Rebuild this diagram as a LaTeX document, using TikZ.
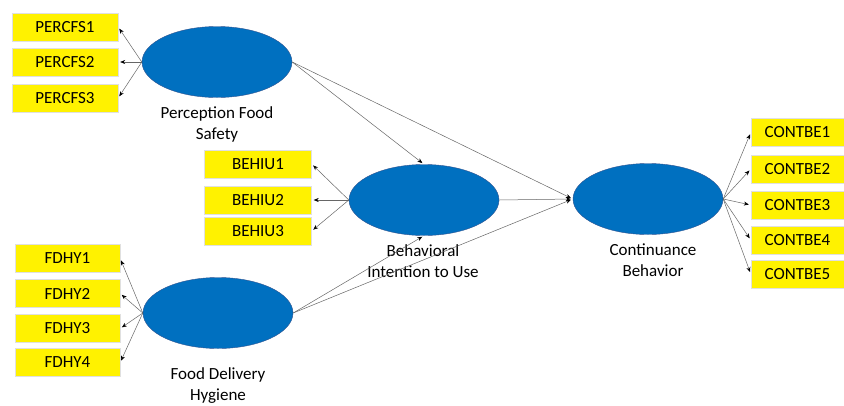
\documentclass[tikz,border=0pt]{standalone}
\usepackage{fontspec}
\setmainfont{Carlito}
\usetikzlibrary{shapes.geometric,arrows.meta}
\definecolor{latblue}{HTML}{0070C0}
\definecolor{latedge}{HTML}{2F528F}

\begin{document}
\begin{tikzpicture}[x=1pt,y=-1pt,
  lat/.style={ellipse,draw=latedge,fill=latblue,minimum width=150pt,minimum height=71pt,inner sep=0pt},
  ind/.style={fill=yellow,draw=black!12,minimum height=28pt,inner sep=0pt,font=\fontsize{17}{17}\selectfont},
  latname/.style={align=center,font=\fontsize{17}{21}\selectfont},
  lnk/.style={draw=black!60,line width=0.5pt,shorten >=2pt,-{Stealth[length=5pt,width=4pt,black]}}]
\useasboundingbox (0,0) rectangle (844,405);
% latent constructs
\node[lat] (pfs) at (217,62) {};
\node[lat] (biu) at (424,200) {};
\node[lat] (fdh) at (218,313) {};
\node[lat] (cb) at (648,199) {};
% construct names
\node[latname] (pfslab) at (217,124) {Perception Food\\Safety};
\node[latname] (biulab) at (423,261) {Behavioral\\Intention to Use};
\node[latname] (fdhlab) at (218,386) {Food Delivery\\Hygiene};
\node[latname] (cblab) at (653,260) {Continuance\\Behavior};
% indicators
\foreach \i/\y in {1/27,2/62,3/98} {
  \node[ind,minimum width=106pt] (percfs\i) at (65,\y) {PERCFS\i};
  \draw[lnk] (pfs.west) -- (percfs\i.east);
}
\foreach \i/\y in {1/164,2/200,3/231} {
  \node[ind,minimum width=107pt] (behiu\i) at (258,\y) {BEHIU\i};
  \draw[lnk] (biu.west) -- (behiu\i.east);
}
\foreach \i/\y in {1/258.5,2/293.5,3/328.5,4/362.5} {
  \node[ind,minimum width=105pt] (fdhy\i) at (67.5,\y) {FDHY\i};
  \draw[lnk] (fdh.west) -- (fdhy\i.east);
}
\foreach \i/\y in {1/132.5,2/169,3/205,4/240,5/274} {
  \node[ind,minimum width=93pt] (contbe\i) at (797.5,\y) {CONTBE\i};
  \draw[lnk] (cb.east) -- (contbe\i.west);
}
% structural paths
\draw[lnk] (pfs.east) -- (biu.north);
\draw[lnk] (pfs.east) -- (cb.west);
\draw[lnk] (biu.east) -- (cb.west);
\draw[lnk] (fdh.east) -- (biu.south);
\draw[lnk] (fdh.east) -- (cb.west);
\end{tikzpicture}
\end{document}
